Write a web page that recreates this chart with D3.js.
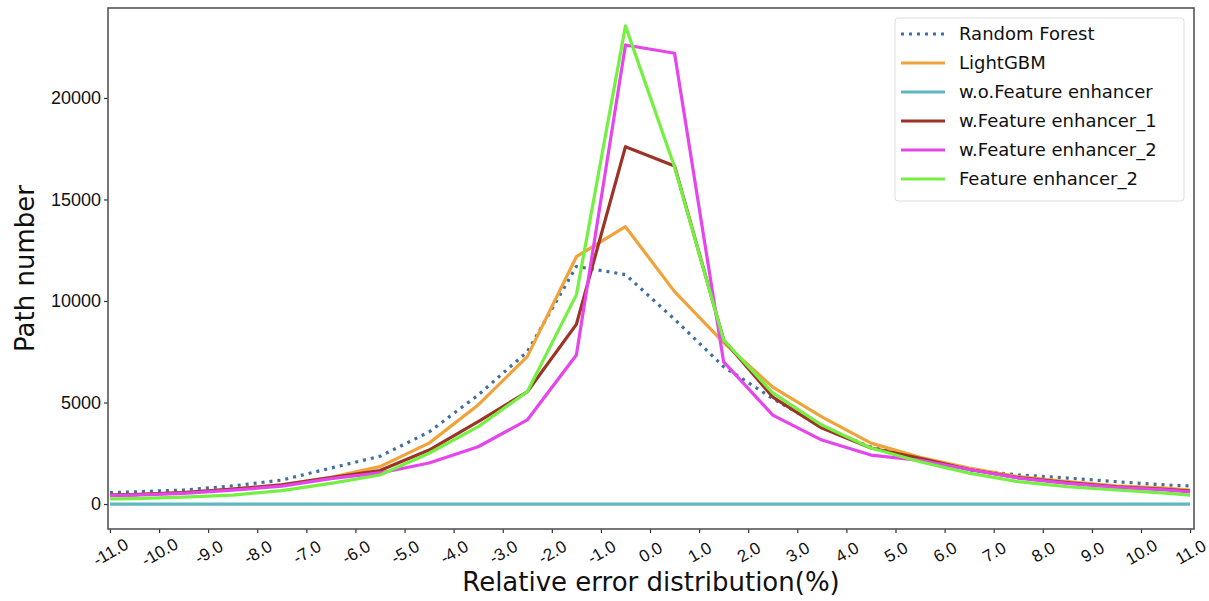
<!DOCTYPE html>
<html lang="en">
<head>
    <meta charset="UTF-8">
    <title>Relative error distribution</title>
    <style>
        body,html{
            margin:0;
            padding:0;
            border:0;
            background:#fff;
            font-family:"DejaVu Sans", Arial;
        }
    </style>
</head>
<body>
    <svg id="svg" width="1209" height="601"></svg>
    <script type="text/javascript" src="https://cdnjs.cloudflare.com/ajax/libs/d3/7.8.5/d3.min.js"></script>
    <script type="text/javascript">
        // x positions of the points (bin centres, ends clipped at the axis limits)
        var xValues = [-11, -10.5, -9.5, -8.5, -7.5, -6.5, -5.5, -4.5, -3.5, -2.5, -1.5, -0.5,
                       0.5, 1.5, 2.5, 3.5, 4.5, 5.5, 6.5, 7.5, 8.5, 9.5, 10.5, 11];
        var xTicks = d3.range(-11, 12, 1);
        var yTicks = [0, 5000, 10000, 15000, 20000];

        var randomForest = [560, 600, 690, 890, 1180, 1770, 2350, 3550, 5370, 7500, 11700, 11300,
                            9100, 6760, 5200, 3800, 2800, 2250, 1690, 1430, 1280, 1100, 940, 890];
        var lightGBM     = [440, 460, 560, 730, 940, 1320, 1840, 3000, 4880, 7260, 12180, 13660,
                            10460, 7950, 5760, 4290, 3000, 2300, 1770, 1350, 1100, 890, 790, 690];
        var woEnhancer   = [0, 0, 0, 0, 0, 0, 0, 0, 0, 0, 0, 0,
                            0, 0, 0, 0, 0, 0, 0, 0, 0, 0, 0, 0];
        var wEnhancer1   = [440, 460, 560, 730, 940, 1300, 1650, 2660, 4060, 5530, 8850, 17600,
                            16650, 8080, 5270, 3740, 2760, 2250, 1700, 1300, 1050, 850, 720, 640];
        var wEnhancer2   = [420, 440, 520, 680, 880, 1250, 1530, 2020, 2820, 4140, 7340, 22610,
                            22200, 7000, 4380, 3150, 2410, 2150, 1700, 1280, 1020, 820, 700, 600];
        var enhancer2    = [250, 270, 340, 440, 660, 1020, 1430, 2500, 3810, 5530, 10300, 23550,
                            16600, 8080, 5470, 3890, 2760, 2080, 1520, 1100, 850, 690, 540, 440];

        var series = [
            {name:"Random Forest",          values:randomForest, color:"#3f6fa3", dash:"3,5"},
            {name:"LightGBM",               values:lightGBM,     color:"#f0a33a", dash:null},
            {name:"w.o.Feature enhancer",   values:woEnhancer,   color:"#5fb8bf", dash:null},
            {name:"w.Feature enhancer_1",   values:wEnhancer1,   color:"#9c3326", dash:null},
            {name:"w.Feature enhancer_2",   values:wEnhancer2,   color:"#e545ec", dash:null},
            {name:"Feature enhancer_2",     values:enhancer2,    color:"#74f043", dash:null}
        ];

        var svg = d3.select("#svg");
        var pLeft = 108, pRight = 1194, pTop = 8, pBottom = 529;

        var x = d3.scaleLinear().domain([-11.04, 11.08]).range([pLeft, pRight]);
        var y = d3.scaleLinear().domain([-1230, 24430]).range([pBottom, pTop]);

        svg.append("defs").append("clipPath").attr("id", "plotClip")
            .append("rect")
            .attr("x", pLeft).attr("y", pTop)
            .attr("width", pRight - pLeft).attr("height", pBottom - pTop);

        //Lines
        var line = d3.line()
            .x(function(d, i){ return x(xValues[i]); })
            .y(function(d){ return y(d); });

        var draw = [2, 0, 1, 3, 4, 5];
        svg.append("g").attr("clip-path", "url(#plotClip)")
            .selectAll("path").data(draw.map(function(k){ return series[k]; })).enter().append("path")
            .attr("d", function(s){ return line(s.values); })
            .attr("fill", "none")
            .attr("stroke", function(s){ return s.color; })
            .attr("stroke-width", 3.2)
            .attr("stroke-linejoin", "round")
            .attr("stroke-dasharray", function(s){ return s.dash; });

        //Axes
        var xAxis = d3.axisBottom(x).tickValues(xTicks).tickSize(4)
            .tickFormat(function(d){ return d.toFixed(1); });
        var gx = svg.append("g").attr("transform", "translate(0," + pBottom + ")").call(xAxis);
        gx.select(".domain").remove();
        gx.selectAll("line").attr("stroke", "#333").attr("stroke-width", 1.2);
        gx.selectAll("text")
            .attr("font-size", 17)
            .attr("fill", "#111")
            .attr("text-anchor", "middle")
            .attr("dy", "0.35em")
            .attr("y", 0)
            .attr("transform", "translate(0,23) rotate(-30)");

        var yAxis = d3.axisLeft(y).tickValues(yTicks).tickSize(4).tickFormat(d3.format("d"));
        var gy = svg.append("g").attr("transform", "translate(" + pLeft + ",0)").call(yAxis);
        gy.select(".domain").remove();
        gy.selectAll("line").attr("stroke", "#333").attr("stroke-width", 1.2);
        gy.selectAll("text").attr("font-size", 18).attr("fill", "#111").attr("x", -7);

        //Frame
        svg.append("rect")
            .attr("x", pLeft).attr("y", pTop)
            .attr("width", pRight - pLeft).attr("height", pBottom - pTop)
            .attr("fill", "none").attr("stroke", "#555").attr("stroke-width", 1.6);

        //Axis titles
        svg.append("text")
            .attr("x", (pLeft + pRight) / 2).attr("y", 591)
            .attr("text-anchor", "middle")
            .attr("font-size", 26).attr("fill", "#111")
            .text("Relative error distribution(%)");

        svg.append("text")
            .attr("transform", "translate(34," + ((pTop + pBottom) / 2) + ") rotate(-90)")
            .attr("text-anchor", "middle")
            .attr("font-size", 26).attr("fill", "#111")
            .text("Path number");

        //Legend
        var legend = svg.append("g").attr("transform", "translate(895,18)");
        legend.append("rect")
            .attr("width", 289).attr("height", 183).attr("rx", 3)
            .attr("fill", "#fff").attr("fill-opacity", 0.85)
            .attr("stroke", "#ddd").attr("stroke-width", 1);

        var items = legend.selectAll("g.item").data(series).enter().append("g")
            .attr("class", "item")
            .attr("transform", function(d, i){ return "translate(0," + (16 + i * 29) + ")"; });
        items.append("line")
            .attr("x1", 6).attr("x2", 50)
            .attr("stroke", function(d){ return d.color; })
            .attr("stroke-width", 3.2)
            .attr("stroke-dasharray", function(d){ return d.dash; });
        items.append("text")
            .attr("x", 64).attr("dy", "0.35em")
            .attr("font-size", 18).attr("fill", "#111")
            .text(function(d){ return d.name; });
    </script>
</body>
</html>
